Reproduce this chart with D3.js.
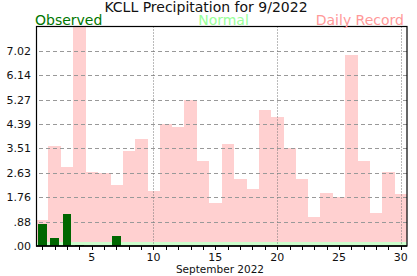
<!DOCTYPE html>
<html>
<head>
<meta charset="utf-8">
<script src="https://cdn.jsdelivr.net/npm/d3@7"></script>
<style>
  html, body { margin: 0; padding: 0; background: #fff; }
  svg { display: block; font-family: "DejaVu Sans", Verdana, sans-serif; }
</style>
</head>
<body>
<div id="chart"></div>
<script>
// September 2022 daily precipitation, KCLL (inches)
const days = [1, 2, 3, 4, 5, 6, 7, 8, 9, 10, 11, 12, 13, 14, 15,
  16, 17, 18, 19, 20, 21, 22, 23, 24, 25, 26, 27, 28, 29, 30];
const observed = [0.80, 0.29, 1.16, 0.03, 0, 0, 0.37, 0, 0, 0, 0, 0, 0, 0, 0,
  0, 0, 0, 0, 0, 0, 0, 0, 0, 0, 0, 0, 0, 0, 0];
const normal = [0.15, 0.15, 0.15, 0.15, 0.15, 0.15, 0.15, 0.15, 0.15, 0.15,
  0.15, 0.15, 0.15, 0.15, 0.15, 0.15, 0.15, 0.15, 0.15, 0.15,
  0.15, 0.15, 0.15, 0.15, 0.15, 0.13, 0.13, 0.13, 0.13, 0.15];
const record = [0.94, 3.60, 2.85, 8.60, 2.66, 2.62, 2.19, 3.42, 3.85, 1.98,
  4.39, 4.28, 5.25, 3.06, 1.56, 3.67, 2.41, 2.05, 4.89, 4.64,
  3.53, 2.41, 1.05, 1.90, 1.75, 6.87, 3.06, 1.20, 2.66, 1.87];

const yMax = 7.9;
const yTickValues = [0, 0.8778, 1.7556, 2.6333, 3.5111, 4.3889, 5.2667, 6.1444, 7.0222];
const yTickLabels = [".00", ".88", "1.76", "2.63", "3.51", "4.39", "5.27", "6.14", "7.02"];
const xLabelDays = [5, 10, 15, 20, 25, 30];
const xGridDays = [10, 20, 30];

const width = 417, height = 276;
const margin = { top: 26.5, right: 10, bottom: 30, left: 36 };

const svg = d3.select('#chart').append('svg')
  .attr('width', width)
  .attr('height', height);

const x = d3.scaleBand()
  .domain(days)
  .range([margin.left, width - margin.right])
  .padding(0);

const y = d3.scaleLinear()
  .domain([0, yMax])
  .range([height - margin.bottom, margin.top]);

svg.append('clipPath').attr('id', 'plot-clip')
  .append('rect')
  .attr('x', margin.left)
  .attr('y', margin.top)
  .attr('width', width - margin.left - margin.right)
  .attr('height', height - margin.top - margin.bottom);

const plot = svg.append('g').attr('clip-path', 'url(#plot-clip)');

// Daily record bars
plot.selectAll('rect.record')
  .data(days)
  .enter()
  .append('rect')
  .attr('class', 'record')
  .attr('x', d => x(d))
  .attr('width', x.bandwidth() + 0.3)
  .attr('y', (d, i) => y(record[i]))
  .attr('height', (d, i) => y(0) - y(record[i]))
  .attr('fill', '#ffd0d0')
  .attr('shape-rendering', 'crispEdges');

// Normal bars
plot.selectAll('rect.normal')
  .data(days)
  .enter()
  .append('rect')
  .attr('class', 'normal')
  .attr('x', d => x(d))
  .attr('width', x.bandwidth() + 0.3)
  .attr('y', (d, i) => y(normal[i]))
  .attr('height', (d, i) => y(0) - y(normal[i]))
  .attr('fill', '#ccffcc')
  .attr('shape-rendering', 'crispEdges');

// Horizontal dashed grid
plot.selectAll('line.hgrid')
  .data(yTickValues.slice(1))
  .enter()
  .append('line')
  .attr('class', 'hgrid')
  .attr('x1', margin.left + 3)
  .attr('x2', width - margin.right)
  .attr('y1', d => Math.round(y(d)) + 0.5)
  .attr('y2', d => Math.round(y(d)) + 0.5)
  .attr('stroke', '#999')
  .attr('stroke-dasharray', '4,3');

// Vertical dotted grid
plot.selectAll('line.vgrid')
  .data(xGridDays)
  .enter()
  .append('line')
  .attr('class', 'vgrid')
  .attr('x1', d => Math.round(x(d) + x.bandwidth() / 2) + 0.5)
  .attr('x2', d => Math.round(x(d) + x.bandwidth() / 2) + 0.5)
  .attr('y1', margin.top)
  .attr('y2', y(0))
  .attr('stroke', '#777')
  .attr('stroke-dasharray', '1,2');

// Observed bars
const obsWidth = x.bandwidth() * 0.7;
plot.selectAll('rect.obs')
  .data(days.filter((d, i) => observed[i] > 0))
  .enter()
  .append('rect')
  .attr('class', 'obs')
  .attr('x', d => x(d) + (x.bandwidth() - obsWidth) / 2)
  .attr('width', obsWidth)
  .attr('y', d => y(observed[days.indexOf(d)]))
  .attr('height', d => y(0) - y(observed[days.indexOf(d)]))
  .attr('fill', '#006600')
  .attr('shape-rendering', 'crispEdges');

// Frame
svg.append('rect')
  .attr('x', margin.left + 0.5)
  .attr('y', margin.top)
  .attr('width', width - margin.left - margin.right - 0.5)
  .attr('height', height - margin.top - margin.bottom)
  .attr('fill', 'none')
  .attr('stroke', '#000')
  .attr('stroke-width', 1.2);

svg.append('line')
  .attr('x1', margin.left).attr('x2', width - margin.right)
  .attr('y1', y(0)).attr('y2', y(0))
  .attr('stroke', '#000')
  .attr('stroke-width', 1.5);

// X axis ticks and labels
const xAxis = svg.append('g');
xAxis.selectAll('line')
  .data(days)
  .enter()
  .append('line')
  .attr('x1', d => Math.round(x(d) + x.bandwidth() / 2) + 0.5)
  .attr('x2', d => Math.round(x(d) + x.bandwidth() / 2) + 0.5)
  .attr('y1', y(0))
  .attr('y2', y(0) + 4)
  .attr('stroke', '#000');

xAxis.selectAll('text')
  .data(xLabelDays)
  .enter()
  .append('text')
  .attr('x', d => x(d) + x.bandwidth() / 2)
  .attr('y', 261)
  .attr('text-anchor', 'middle')
  .attr('font-size', '11px')
  .attr('fill', '#111')
  .text(d => d);

svg.append('text')
  .attr('x', 220)
  .attr('y', 272.5)
  .attr('text-anchor', 'middle')
  .attr('font-size', '10.5px')
  .attr('fill', '#111')
  .text('September 2022');

// Y labels
svg.append('g').selectAll('text')
  .data(yTickValues)
  .enter()
  .append('text')
  .attr('x', 31)
  .attr('y', d => y(d) + 4)
  .attr('text-anchor', 'end')
  .attr('font-size', '11px')
  .attr('fill', '#111')
  .text((d, i) => yTickLabels[i]);

// Title and legend
svg.append('text')
  .attr('x', 206)
  .attr('y', 12)
  .attr('text-anchor', 'middle')
  .attr('font-size', '14px')
  .attr('fill', '#111')
  .text('KCLL Precipitation for 9/2022');

svg.append('text')
  .attr('x', 35)
  .attr('y', 24.5)
  .attr('font-size', '14px')
  .attr('fill', '#007700')
  .text('Observed');

svg.append('text')
  .attr('x', 223.5)
  .attr('y', 24.5)
  .attr('text-anchor', 'middle')
  .attr('font-size', '14px')
  .attr('fill', '#99ff99')
  .text('Normal');

svg.append('text')
  .attr('x', 404)
  .attr('y', 24.5)
  .attr('text-anchor', 'end')
  .attr('font-size', '14px')
  .attr('fill', '#ff9999')
  .text('Daily Record');
</script>
</body>
</html>
